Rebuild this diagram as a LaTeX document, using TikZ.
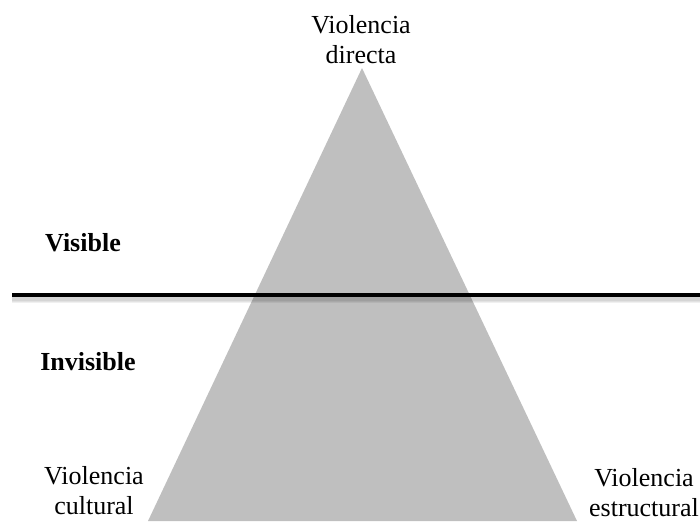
\documentclass[tikz,border=0pt]{standalone}
\usepackage{fontspec}
\setmainfont{Liberation Serif}
\usetikzlibrary{calc}
\definecolor{pyrgray}{HTML}{BFBFBF}
\tikzset{lbl/.style={align=center,inner sep=0pt,font=\fontsize{13}{15}\selectfont},
  side/.style={lbl,font=\fontsize{13}{15}\selectfont\bfseries}}
\begin{document}
\begin{tikzpicture}[x=0.5pt,y=-0.5pt]
\useasboundingbox (0,0) rectangle (700,521);
\coordinate (apex) at (362,68);
\coordinate (bl) at (148,521);
\coordinate (br) at (577,521);
\fill[pyrgray] (apex) -- (bl) -- (br) -- cycle;
% shadow under the line
\foreach \d in {1,...,6} {
  \draw[black,opacity=0.06,line width=1.5pt] (12,{295+\d}) -- (700,{295+\d});
}
\coordinate (lineL) at (12,295);
\coordinate (lineR) at (700,295);
\draw[black,line width=1.6pt] (lineL) -- (lineR);
\node[lbl] (directa) at (361,40) {Violencia\\directa};
\node[side] (visible) at (83,243) {Visible};
\node[side] (invisible) at (88,362) {Invisible};
\node[lbl] (cultural) at (94,491) {Violencia\\cultural};
\node[lbl] (estructural) at (644,493) {Violencia\\estructural};
\end{tikzpicture}
\end{document}
